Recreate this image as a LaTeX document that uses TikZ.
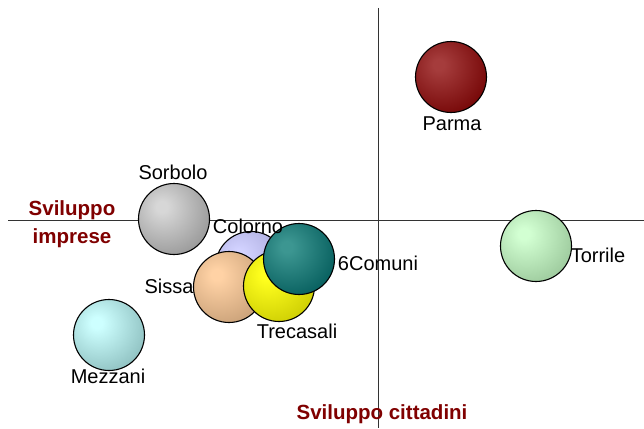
\documentclass[tikz,border=0pt]{standalone}
\usepackage{fontspec}
\setmainfont{Liberation Sans}
\usetikzlibrary{positioning}

\definecolor{axisred}{RGB}{128,0,0}
\definecolor{parmain}{RGB}{165,60,60}
\definecolor{parmaout}{RGB}{112,0,0}
\definecolor{torrin}{RGB}{210,255,210}
\definecolor{torrout}{RGB}{150,195,150}
\definecolor{sorbin}{RGB}{215,215,215}
\definecolor{sorbout}{RGB}{145,145,145}
\definecolor{colorin}{RGB}{210,210,255}
\definecolor{colorout}{RGB}{160,160,210}
\definecolor{sissin}{RGB}{255,210,165}
\definecolor{sissout}{RGB}{195,155,115}
\definecolor{trecin}{RGB}{255,255,30}
\definecolor{trecout}{RGB}{200,200,0}
\definecolor{comin}{RGB}{60,150,145}
\definecolor{comout}{RGB}{0,88,88}
\definecolor{mezzin}{RGB}{205,255,255}
\definecolor{mezzout}{RGB}{135,185,185}

\pgfdeclareradialshading[bubin,bubout]{bubble}{\pgfpoint{-9bp}{9bp}}{color(0bp)=(bubin); color(4bp)=(bubin); color(38bp)=(bubout); color(100bp)=(bubout)}

\tikzset{
    bubble/.style 2 args={circle, draw=black, line width=1.1pt, minimum size=71pt, inner sep=0pt,
        /utils/exec={\colorlet{bubin}{#1}\colorlet{bubout}{#2}}, shading=bubble},
    town/.style={font=\fontsize{20}{24}\selectfont, inner sep=0pt},
    axistitle/.style={font=\fontsize{20.5}{24}\selectfont\bfseries, text=axisred, inner sep=0pt}
}

\begin{document}
\begin{tikzpicture}[x=1pt,y=-1pt]
    \useasboundingbox (0,0) rectangle (644,428);
    % axes
    \draw[line width=0.9pt,black!80] (8,220) -- (644,220);
    \draw[line width=0.9pt,black!80] (378,8) -- (378,428);
    % bubbles
    \node[bubble={parmain}{parmaout}] (parma) at (451,77) {};
    \node[bubble={torrin}{torrout}] (torrile) at (536,246) {};
    \node[bubble={sorbin}{sorbout}] (sorbolo) at (174,219) {};
    \node[bubble={colorin}{colorout}] (colorno) at (251,267) {};
    \node[bubble={sissin}{sissout}] (sissa) at (229,287) {};
    \node[bubble={trecin}{trecout}] (trecasali) at (279,286) {};
    \node[bubble={comin}{comout}] (comuni) at (299,259) {};
    \node[bubble={mezzin}{mezzout}] (mezzani) at (109,335) {};
    % labels
    \node[town] (parmalbl) at (452,124) {Parma};
    \node[town] (torrilelbl) at (598,255) {Torrile};
    \node[town] (sorbololbl) at (173,172) {Sorbolo};
    \node[town] (colornolbl) at (248,226) {Colorno};
    \node[town] (comunilbl) at (378,263) {6Comuni};
    \node[town] (sissalbl) at (169,286) {Sissa};
    \node[town] (trecasalilbl) at (297,331) {Trecasali};
    \node[town] (mezzanilbl) at (108,376) {Mezzani};
    % axis titles
    \node[axistitle] (imprese) at (72,225) {\begin{tabular}{@{}c@{}}Sviluppo\\[4pt]imprese\end{tabular}};
    \node[axistitle] (cittadini) at (382,414) {Sviluppo cittadini};
\end{tikzpicture}
\end{document}
